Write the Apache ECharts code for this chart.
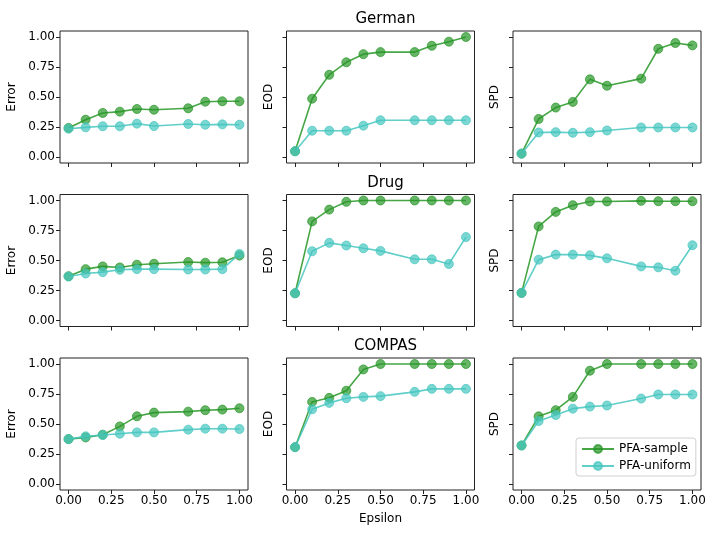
<!DOCTYPE html>
<html>
<head>
<meta charset="utf-8">
<script src="https://cdn.jsdelivr.net/npm/echarts@6/dist/echarts.min.js"></script>
<style>
html,body{margin:0;padding:0;background:#fff;}
#c{width:718px;height:538px;}
</style>
</head>
<body>
<div id="c"></div>
<script>
const eps = [0, 0.1, 0.2, 0.3, 0.4, 0.5, 0.7, 0.8, 0.9, 1.0];
const xTicks = [0, 0.25, 0.5, 0.75, 1.0];
const yTicks = [0, 0.25, 0.5, 0.75, 1.0];
const datasets = ['German', 'Drug', 'COMPAS'];
const metrics = ['Error', 'EOD', 'SPD'];
const seriesNames = ['PFA-sample', 'PFA-uniform'];

// German
const germanErrorSample = [0.242, 0.311, 0.367, 0.378, 0.400, 0.394, 0.406, 0.461, 0.464, 0.464];
const germanErrorUniform = [0.236, 0.247, 0.256, 0.256, 0.278, 0.258, 0.275, 0.269, 0.272, 0.269];
const germanEODSample = [0.048, 0.486, 0.685, 0.789, 0.857, 0.874, 0.874, 0.927, 0.961, 1.000];
const germanEODUniform = [0.048, 0.219, 0.219, 0.219, 0.261, 0.306, 0.306, 0.306, 0.306, 0.306];
const germanSPDSample = [0.028, 0.317, 0.412, 0.459, 0.647, 0.594, 0.653, 0.902, 0.950, 0.930];
const germanSPDUniform = [0.028, 0.204, 0.207, 0.202, 0.207, 0.221, 0.246, 0.246, 0.246, 0.246];
// Drug
const drugErrorSample = [0.369, 0.428, 0.451, 0.442, 0.465, 0.473, 0.487, 0.482, 0.485, 0.541];
const drugErrorUniform = [0.366, 0.392, 0.403, 0.423, 0.428, 0.428, 0.425, 0.425, 0.428, 0.555];
const drugEODSample = [0.227, 0.826, 0.924, 0.989, 1.000, 1.000, 1.000, 1.000, 1.000, 1.000];
const drugEODUniform = [0.227, 0.577, 0.647, 0.625, 0.602, 0.580, 0.510, 0.510, 0.471, 0.695];
const drugSPDSample = [0.230, 0.784, 0.905, 0.961, 0.992, 0.992, 0.997, 0.994, 0.994, 0.994];
const drugSPDUniform = [0.230, 0.507, 0.549, 0.549, 0.543, 0.518, 0.451, 0.443, 0.415, 0.627];
// COMPAS
const compasErrorSample = [0.374, 0.388, 0.411, 0.480, 0.564, 0.595, 0.603, 0.615, 0.620, 0.631];
const compasErrorUniform = [0.374, 0.397, 0.408, 0.419, 0.430, 0.430, 0.453, 0.461, 0.461, 0.458];
const compasEODSample = [0.307, 0.684, 0.718, 0.777, 0.955, 1.000, 1.000, 1.000, 1.000, 1.000];
const compasEODUniform = [0.307, 0.623, 0.676, 0.715, 0.726, 0.732, 0.768, 0.793, 0.793, 0.793];
const compasSPDSample = [0.321, 0.564, 0.615, 0.726, 0.944, 1.000, 1.000, 1.000, 1.000, 1.000];
const compasSPDUniform = [0.321, 0.525, 0.575, 0.628, 0.645, 0.654, 0.712, 0.746, 0.746, 0.746];

const panelData = [
  [[germanErrorSample, germanErrorUniform], [germanEODSample, germanEODUniform], [germanSPDSample, germanSPDUniform]],
  [[drugErrorSample, drugErrorUniform], [drugEODSample, drugEODUniform], [drugSPDSample, drugSPDUniform]],
  [[compasErrorSample, compasErrorUniform], [compasEODSample, compasEODUniform], [compasSPDSample, compasSPDUniform]]
];

const colors = ['#269626', '#45c6bf'];
const FONT = 'DejaVu Sans';
const colLeft = [60, 286.5, 513];
const rowTop = [31, 194.5, 358];
const W = 188, H = 132;

const grids = [], xAxes = [], yAxes = [], series = [], titles = [];
let idx = 0;
for (let r = 0; r < 3; r++) {
  titles.push({
    text: datasets[r], left: colLeft[1] + W / 2, top: rowTop[r] - 24, textAlign: 'center',
    textStyle: {fontFamily: FONT, fontSize: 15, fontWeight: 'normal', color: '#000'}
  });
  for (let c = 0; c < 3; c++) {
    grids.push({left: colLeft[c], top: rowTop[r], width: W, height: H, show: true,
      borderColor: '#222', borderWidth: 1, backgroundColor: 'transparent', containLabel: false});
    xAxes.push({
      type: 'value', gridIndex: idx, min: -0.05, max: 1.05,
      name: (r === 2 && c === 1) ? 'Epsilon' : '',
      nameLocation: 'middle', nameGap: 23,
      nameTextStyle: {fontFamily: FONT, fontSize: 12, color: '#000'},
      axisLine: {show: false, onZero: false},
      splitLine: {show: false},
      axisTick: {show: true, inside: false, length: 4, customValues: xTicks, lineStyle: {color: '#222'}},
      axisLabel: {show: r === 2, customValues: xTicks, fontFamily: FONT, fontSize: 12, color: '#000', margin: 5,
        formatter: v => v.toFixed(2)}
    });
    yAxes.push({
      type: 'value', gridIndex: idx, min: -0.05, max: 1.05,
      name: metrics[c], nameLocation: 'middle', nameRotate: 90,
      nameGap: c === 0 ? 42 : 12,
      nameTextStyle: {fontFamily: FONT, fontSize: 12, color: '#000'},
      axisLine: {show: false, onZero: false},
      splitLine: {show: false},
      axisTick: {show: true, inside: false, length: 4, customValues: yTicks, lineStyle: {color: '#222'}},
      axisLabel: {show: c === 0, customValues: yTicks, fontFamily: FONT, fontSize: 12, color: '#000', margin: 5,
        formatter: v => v.toFixed(2)}
    });
    for (let s = 0; s < 2; s++) {
      const vals = panelData[r][c][s];
      series.push({
        name: seriesNames[s], type: 'line', xAxisIndex: idx, yAxisIndex: idx,
        data: eps.map((e, i) => [e, vals[i]]),
        symbol: 'circle', symbolSize: 9, showSymbol: true,
        z: 2 + s,
        lineStyle: {color: colors[s], width: 1.6, opacity: 0.85},
        itemStyle: {color: colors[s], opacity: 0.7, borderColor: colors[s], borderWidth: 1},
        emphasis: {disabled: true},
        animation: false
      });
    }
    idx++;
  }
}

const chart = echarts.init(document.getElementById('c'), null, {renderer: 'canvas'});
chart.setOption({
  backgroundColor: '#fff',
  animation: false,
  title: titles,
  grid: grids,
  xAxis: xAxes,
  yAxis: yAxes,
  series: series,
  legend: {
    data: seriesNames, orient: 'vertical', left: 576, top: 438,
    padding: [5, 5, 4, 5], itemGap: 5, itemWidth: 32, itemHeight: 10,
    borderColor: '#d0d0d0', borderWidth: 1, borderRadius: 3, backgroundColor: 'rgba(255,255,255,0.8)',
    textStyle: {fontFamily: FONT, fontSize: 12, color: '#000'},
    selectedMode: false
  }
});
</script>
</body>
</html>
